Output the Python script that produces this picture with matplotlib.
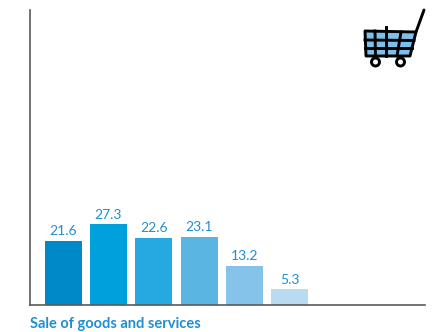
import matplotlib
matplotlib.use('Agg')
import matplotlib.pyplot as plt
from matplotlib.patches import Polygon, Circle

plt.rcParams['font.family'] = ['Lato', 'DejaVu Sans']

values = [21.6, 27.3, 22.6, 23.1, 13.2, 5.3]
bar_colors = ['#0089C9', '#00A0DC', '#25A9DF', '#5BB5E3', '#85C3EA', '#B9DBF2']
category_label = 'Sale of goods and services'

W, H = 436, 332
fig = plt.figure(figsize=(W / 100, H / 100), dpi=100)
ax = fig.add_axes([30 / W, 1 - 305 / H, 395 / W, 295 / H])

x = range(len(values))
ax.bar(x, values, width=0.815, color=bar_colors, zorder=2)
for i, v in zip(x, values):
    ax.text(i, v + 1.3, f'{v:.1f}', ha='center', va='bottom', fontsize=10, color='#1E8FD0')

ax.set_xlim(-0.727, 7.974)
ax.set_ylim(0, 100)
ax.set_xticks([])
ax.set_yticks([])
for side in ['top', 'right']:
    ax.spines[side].set_visible(False)
for side in ['left', 'bottom']:
    ax.spines[side].set_color('#5A5A5A')
    ax.spines[side].set_linewidth(1.2)
    ax.spines[side].set_zorder(3)

fig.text(30 / W, 1 - 324 / H, category_label, fontsize=10.5, fontweight='bold', color='#1E8FD0', va='center')

# shopping cart icon, drawn in pixel space
icon = fig.add_axes([0, 0, 1, 1], facecolor='none')
icon.set_xlim(0, W)
icon.set_ylim(H, 0)
icon.axis('off')
lw = 2.1
icon.add_patch(Polygon([(365, 31), (416, 32), (410, 56), (366, 56)], closed=True,
                       facecolor='#7CBFEA', edgecolor='black', linewidth=lw, joinstyle='round'))
icon.plot([365, 414], [40, 40.5], color='black', lw=lw)
icon.plot([365, 412], [48, 48], color='black', lw=lw)
icon.plot([375, 375.5], [31, 56], color='black', lw=lw)
icon.plot([386, 386], [27, 56], color='black', lw=lw)
icon.plot([401, 397], [32, 56], color='black', lw=lw)
icon.plot([416, 424], [32, 10], color='black', lw=lw, solid_capstyle='round')
icon.add_patch(Circle((375.5, 62), 4, facecolor='white', edgecolor='black', linewidth=lw))
icon.add_patch(Circle((400.5, 62), 4, facecolor='white', edgecolor='black', linewidth=lw))

fig.savefig('out.png', dpi=100)
